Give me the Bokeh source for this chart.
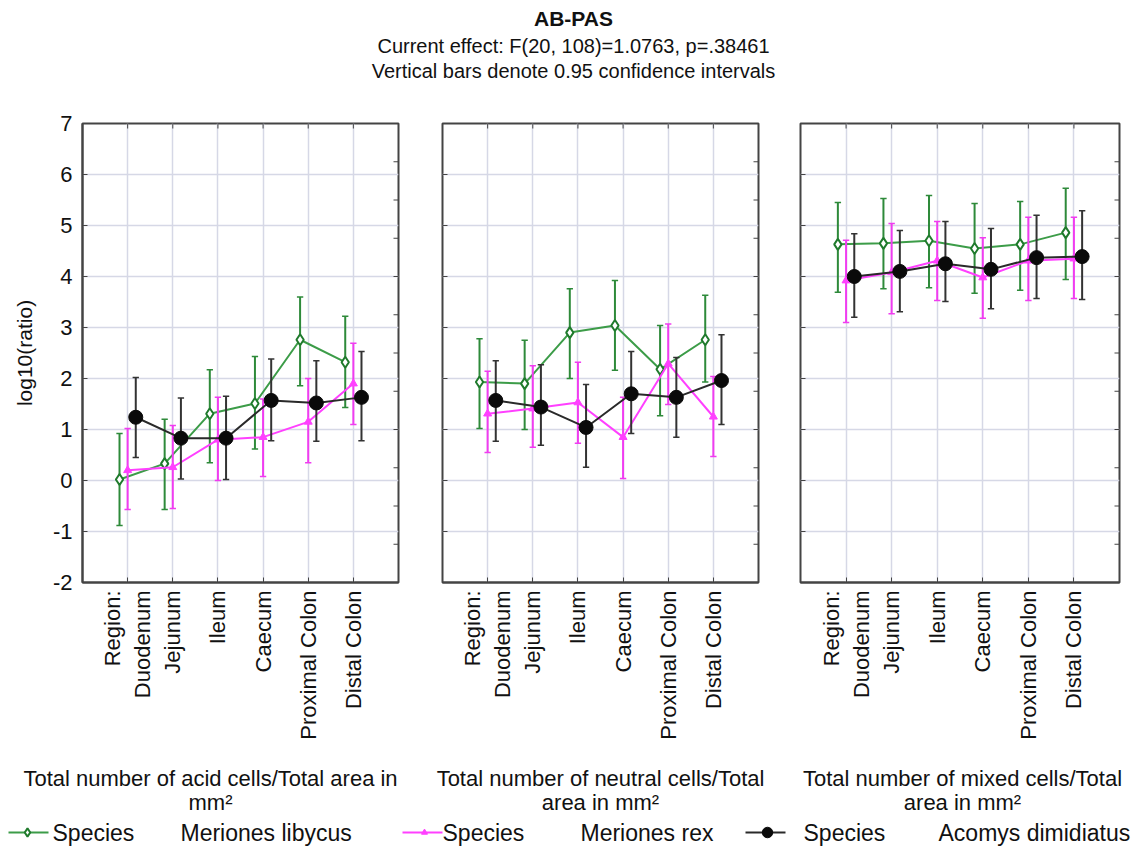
import math
from bokeh.plotting import figure
from bokeh.models import Range1d, FixedTicker, ColumnDataSource
from bokeh.layouts import column, row
from bokeh.embed import file_html
from bokeh.resources import INLINE
from bokeh.core.properties import value

# ---------------- data ----------------
regions = ["Region:\nDuodenum", "Jejunum", "Ileum", "Caecum", "Proximal Colon", "Distal Colon"]
species = ["Meriones libycus", "Meriones rex", "Acomys dimidiatus"]
panel_captions = [
    "Total number of acid cells/Total area in\nmm\u00b2",
    "Total number of neutral cells/Total\narea in mm\u00b2",
    "Total number of mixed cells/Total\narea in mm\u00b2",
]
title_lines = ["AB-PAS",
               "Current effect: F(20, 108)=1.0763, p=.38461",
               "Vertical bars denote 0.95 confidence intervals"]
y_ticks = [-2, -1, 0, 1, 2, 3, 4, 5, 6, 7]
y_tick_labels = ["-2", "-1", "0", "1", "2", "3", "4", "5", "6", "7"]

# acid cells
acid_libycus = [0.02, 0.33, 1.31, 1.51, 2.76, 2.32]
acid_libycus_lo = [-0.88, -0.57, 0.35, 0.62, 1.86, 1.43]
acid_libycus_hi = [0.92, 1.20, 2.17, 2.43, 3.60, 3.22]
acid_rex = [0.20, 0.26, 0.80, 0.85, 1.15, 1.90]
acid_rex_lo = [-0.57, -0.55, 0.00, 0.08, 0.35, 1.10]
acid_rex_hi = [1.02, 1.08, 1.63, 1.60, 2.00, 2.69]
acid_acomys = [1.24, 0.83, 0.83, 1.57, 1.52, 1.63]
acid_acomys_lo = [0.45, 0.03, 0.02, 0.78, 0.77, 0.78]
acid_acomys_hi = [2.02, 1.62, 1.65, 2.38, 2.35, 2.53]

# neutral cells
neutral_libycus = [1.93, 1.90, 2.90, 3.04, 2.18, 2.76]
neutral_libycus_lo = [1.02, 1.00, 2.00, 2.16, 1.27, 1.93]
neutral_libycus_hi = [2.78, 2.75, 3.76, 3.92, 3.04, 3.63]
neutral_rex = [1.31, 1.41, 1.53, 0.85, 2.29, 1.25]
neutral_rex_lo = [0.55, 0.65, 0.73, 0.04, 1.49, 0.47]
neutral_rex_hi = [2.14, 2.25, 2.32, 1.63, 3.07, 2.04]
neutral_acomys = [1.57, 1.44, 1.04, 1.70, 1.63, 1.96]
neutral_acomys_lo = [0.77, 0.69, 0.26, 0.92, 0.85, 1.10]
neutral_acomys_hi = [2.35, 2.27, 1.88, 2.53, 2.41, 2.86]

# mixed cells
mixed_libycus = [4.63, 4.65, 4.70, 4.55, 4.63, 4.86]
mixed_libycus_lo = [3.69, 3.76, 3.78, 3.67, 3.73, 3.94]
mixed_libycus_hi = [5.45, 5.53, 5.59, 5.43, 5.47, 5.73]
mixed_rex = [3.92, 4.08, 4.31, 3.98, 4.31, 4.35]
mixed_rex_lo = [3.10, 3.27, 3.53, 3.18, 3.53, 3.57]
mixed_rex_hi = [4.71, 5.04, 5.08, 4.76, 5.16, 5.16]
mixed_acomys = [4.00, 4.10, 4.25, 4.14, 4.37, 4.39]
mixed_acomys_lo = [3.20, 3.31, 3.51, 3.37, 3.57, 3.55]
mixed_acomys_hi = [4.84, 4.90, 5.08, 4.94, 5.20, 5.29]

panels = [
    [(acid_libycus, acid_libycus_lo, acid_libycus_hi),
     (acid_rex, acid_rex_lo, acid_rex_hi),
     (acid_acomys, acid_acomys_lo, acid_acomys_hi)],
    [(neutral_libycus, neutral_libycus_lo, neutral_libycus_hi),
     (neutral_rex, neutral_rex_lo, neutral_rex_hi),
     (neutral_acomys, neutral_acomys_lo, neutral_acomys_hi)],
    [(mixed_libycus, mixed_libycus_lo, mixed_libycus_hi),
     (mixed_rex, mixed_rex_lo, mixed_rex_hi),
     (mixed_acomys, mixed_acomys_lo, mixed_acomys_hi)],
]

# ---------------- styles ----------------
FONT = value("Liberation Sans")
FONT_NAME = "Liberation Sans"
AXIS_COL = "#444444"
GRID_COL = "#d6d8e6"
TXT = "#111111"
styles = [
    dict(line="#3c9c48", bar="#2e8a3a", marker="diamond", size=11, fill="white", mline="#1f7a2c", lw=2),
    dict(line="#ff40ff", bar="#f03cf0", marker="triangle", size=8, fill="#ff40ff", mline="#ff40ff", lw=1),
    dict(line="#2a2a2a", bar="#333333", marker="circle", size=14, fill="#0a0a0a", mline="#0a0a0a", lw=1),
]
offsets = [-0.18, 0.0, 0.18]
positions = list(range(1, len(regions) + 1))
X0, X1, Y0, Y1 = 0, 7, -2, 7
FRAME_H = 459
HDR_H = 98


def make_panel(i):
    first = i == 0
    fw = 319 if i == 2 else 316
    p = figure(frame_width=fw, frame_height=FRAME_H,
               x_range=Range1d(X0, X1), y_range=Range1d(Y0, Y1),
               output_backend="svg", toolbar_location=None,
               y_axis_location="left" if first else None,
               min_border_left=82 if first else 22,
               min_border_right=14 if i == 2 else (22 if i == 0 else 20),
               min_border_top=123 - HDR_H, min_border_bottom=170)
    p.background_fill_color = "white"
    p.border_fill_color = "white"
    p.outline_line_color = AXIS_COL
    p.outline_line_width = 2

    # bottom axis
    xa = p.xaxis[0]
    xa.ticker = FixedTicker(ticks=positions)
    xa.major_label_overrides = {pos: lab for pos, lab in zip(positions, regions)}
    xa.major_label_orientation = math.pi / 2
    xa.major_label_text_font = FONT_NAME
    xa.major_label_text_font_size = "22px"
    xa.major_label_text_color = TXT
    xa.major_label_standoff = 8
    xa.major_tick_in = 5
    xa.major_tick_out = 0
    xa.minor_tick_in = 0
    xa.minor_tick_out = 0
    xa.axis_line_color = AXIS_COL
    xa.axis_line_width = 2
    xa.major_tick_line_color = AXIS_COL

    # px -> data unit conversions for decorative tick marks
    dx = 5 * (X1 - X0) / fw
    dy = 5 * (Y1 - Y0) / FRAME_H

    if first:
        ya = p.yaxis[0]
        ya.ticker = FixedTicker(ticks=y_ticks)
        ya.major_label_overrides = {t: s for t, s in zip(y_ticks, y_tick_labels)}
        ya.major_tick_in = 5
        ya.major_tick_out = 0
        ya.minor_tick_in = 0
        ya.minor_tick_out = 0
        ya.axis_line_color = AXIS_COL
        ya.axis_line_width = 2
        ya.major_tick_line_color = AXIS_COL
        ya.major_label_text_font = FONT_NAME
        ya.major_label_text_font_size = "22px"
        ya.major_label_text_color = TXT
        ya.major_label_standoff = 10
        ya.axis_label = "log10(ratio)"
        ya.axis_label_text_font = FONT_NAME
        ya.axis_label_text_font_size = "21px"
        ya.axis_label_text_font_style = "normal"
        ya.axis_label_text_color = TXT
        ya.axis_label_standoff = 14
    else:
        p.segment(x0=[X0] * len(y_ticks), y0=y_ticks, x1=[X0 + dx] * len(y_ticks),
                  y1=y_ticks, line_color=AXIS_COL, line_width=1)

    # top ticks (inward)
    p.segment(x0=positions, y0=[Y1] * 6, x1=positions, y1=[Y1 - dy] * 6,
              line_color=AXIS_COL, line_width=1)
    # right ticks: 12 equal divisions
    r_ticks = [Y0 + k * (Y1 - Y0) / 12 for k in range(1, 12)]
    p.segment(x0=[X1 - dx] * len(r_ticks), y0=r_ticks, x1=[X1] * len(r_ticks),
              y1=r_ticks, line_color=AXIS_COL, line_width=1)

    p.xgrid.ticker = FixedTicker(ticks=positions)
    p.ygrid.ticker = FixedTicker(ticks=y_ticks)
    p.xgrid.grid_line_color = GRID_COL
    p.ygrid.grid_line_color = GRID_COL
    p.xgrid.grid_line_width = 1.5
    p.ygrid.grid_line_width = 1.5

    for s, (mean, lo, hi) in enumerate(panels[i]):
        st = styles[s]
        xs = [x + offsets[s] for x in positions]
        src = ColumnDataSource(dict(
            x=xs, y=mean, lo=lo, hi=hi,
            cl=[x - 0.07 for x in xs], cr=[x + 0.07 for x in xs]))
        p.segment(x0="x", y0="lo", x1="x", y1="hi", source=src,
                  line_color=st["bar"], line_width=2)
        p.segment(x0="cl", y0="hi", x1="cr", y1="hi", source=src,
                  line_color=st["bar"], line_width=1.5)
        p.segment(x0="cl", y0="lo", x1="cr", y1="lo", source=src,
                  line_color=st["bar"], line_width=1.5)
        p.line(x="x", y="y", source=src, line_color=st["line"], line_width=2)
        p.scatter(x="x", y="y", source=src, marker=st["marker"], size=st["size"],
                  fill_color=st["fill"], line_color=st["mline"], line_width=st["lw"])
    return p


plots = [make_panel(i) for i in range(3)]
TOTAL_W = 1133


def text_fig(w, h):
    f = figure(width=w, height=h, x_range=Range1d(0, w), y_range=Range1d(h, 0),
               output_backend="svg", toolbar_location=None, min_border=0,
               x_axis_location=None, y_axis_location=None)
    f.grid.visible = False
    f.outline_line_color = None
    f.background_fill_color = "white"
    f.border_fill_color = "white"
    return f


# header
hdr = text_fig(TOTAL_W, HDR_H)
hdr.text(x=[573], y=[18], text=[title_lines[0]], text_font=FONT, text_font_size="21px",
         text_font_style="bold", text_align="center", text_baseline="middle",
         text_color=TXT)
hdr.text(x=[573, 573], y=[45, 70], text=title_lines[1:], text_font=FONT,
         text_font_size="20px", text_align="center", text_baseline="middle",
         text_color=TXT)

# footer: captions + legend
ftr = text_fig(TOTAL_W, 95)
cap_x = [210, 600, 962]
for cx, cap in zip(cap_x, panel_captions):
    l1, l2 = cap.split("\n")
    ftr.text(x=[cx, cx], y=[26, 50], text=[l1, l2], text_font=FONT,
             text_font_size="22px", text_align="center", text_baseline="middle",
             text_color=TXT)

leg_y = 80
leg_line_x = [(8, 48), (402, 442), (745, 785)]
leg_mark_x = [27, 424, 767]
leg_species_x = [52, 442, 803]
leg_name_x = [180, 580, 938]
for s in range(3):
    st = styles[s]
    x0, x1 = leg_line_x[s]
    ftr.line(x=[x0, x1], y=[leg_y, leg_y], line_color=st["line"], line_width=2)
    ftr.scatter(x=[leg_mark_x[s]], y=[leg_y], marker=st["marker"],
                size=st["size"] * 0.75, fill_color=st["fill"],
                line_color=st["mline"], line_width=st["lw"])
    ftr.text(x=[leg_species_x[s], leg_name_x[s]], y=[leg_y, leg_y],
             text=["Species", species[s]], text_font=FONT, text_font_size="23px",
             text_align="left", text_baseline="middle", text_color=TXT)

layout = column(hdr, row(*plots), ftr)
open("out.html", "w").write(file_html(layout, INLINE))
